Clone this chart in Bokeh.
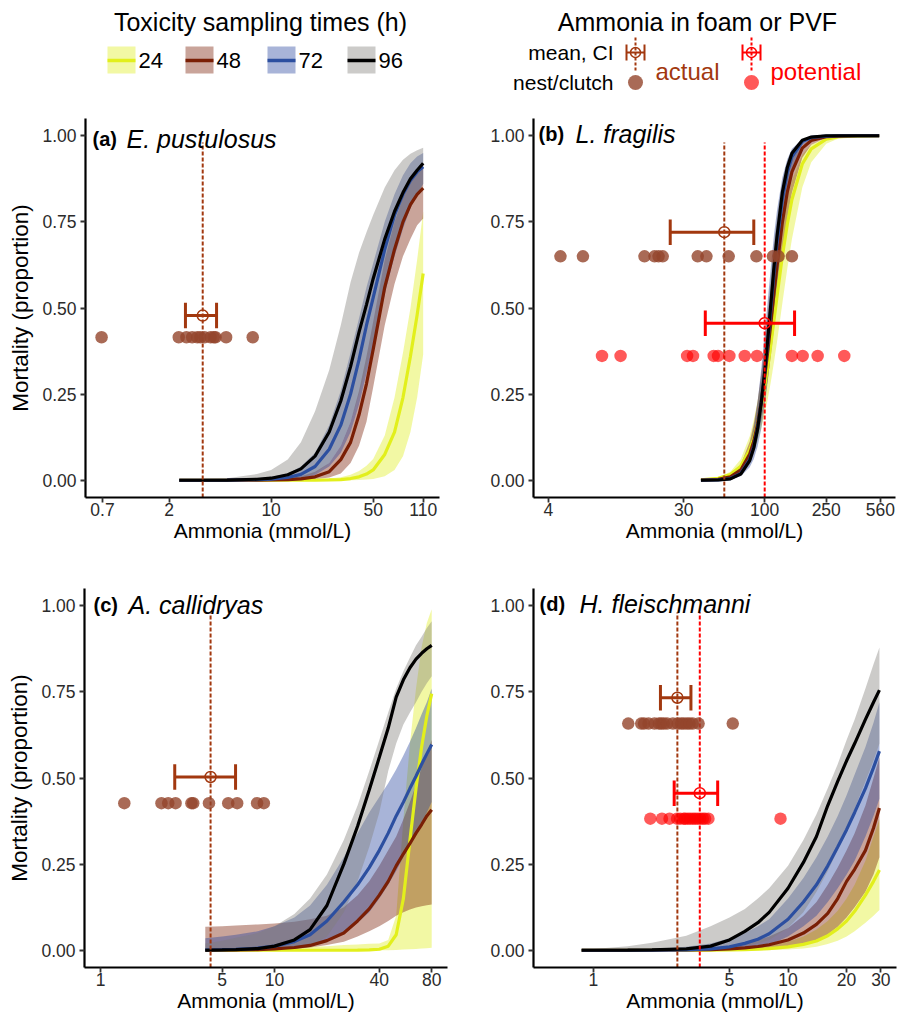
from bokeh.plotting import figure
from bokeh.layouts import column, row
from bokeh.models import Range1d, FixedTicker, CustomJSTickFormatter, PrintfTickFormatter, Label
from bokeh.embed import file_html
from bokeh.resources import INLINE

# ---------------------------------------------------------------- data
HOURS = ["24", "48", "72", "96"]
Y_TICKS = [0, 0.25, 0.5, 0.75, 1.0]

# (a) E. pustulosus
A_TICKS = [0.7, 2, 10, 50, 110]
A_X = [2.35, 5, 8, 10, 13, 16, 20, 25, 30, 35, 40, 45, 50, 60, 70, 80, 90, 100, 110]
A_FIT_24 = [0, 0, 0, 0, 0, 0, 0, 0.001, 0.002, 0.005, 0.01, 0.018, 0.03, 0.075, 0.14, 0.24, 0.36, 0.48, 0.6]
A_LO_24 = [0, 0, 0, 0, 0, 0, 0, 0, 0, 0, 0.001, 0.002, 0.004, 0.012, 0.03, 0.07, 0.14, 0.24, 0.365]
A_HI_24 = [0, 0, 0, 0.001, 0.001, 0.002, 0.003, 0.005, 0.009, 0.016, 0.027, 0.042, 0.062, 0.13, 0.24, 0.37, 0.5, 0.64, 0.78]
A_FIT_48 = [0, 0.0002, 0.0005, 0.001, 0.002, 0.004, 0.01, 0.025, 0.06, 0.11, 0.19, 0.28, 0.38, 0.56, 0.67, 0.75, 0.80, 0.83, 0.848]
A_LO_48 = [0, 0, 0, 0, 0.0005, 0.001, 0.003, 0.008, 0.02, 0.05, 0.1, 0.17, 0.27, 0.45, 0.57, 0.65, 0.7, 0.74, 0.76]
A_HI_48 = [0, 0.001, 0.002, 0.003, 0.006, 0.012, 0.025, 0.05, 0.1, 0.17, 0.26, 0.36, 0.46, 0.64, 0.75, 0.82, 0.865, 0.89, 0.905]
A_FIT_72 = [0, 0.0005, 0.0015, 0.003, 0.008, 0.017, 0.04, 0.09, 0.16, 0.25, 0.35, 0.45, 0.53, 0.67, 0.77, 0.83, 0.87, 0.895, 0.91]
A_LO_72 = [0, 0, 0.0002, 0.0005, 0.002, 0.005, 0.015, 0.04, 0.08, 0.14, 0.22, 0.31, 0.39, 0.54, 0.65, 0.73, 0.79, 0.83, 0.86]
A_HI_72 = [0, 0.002, 0.006, 0.01, 0.02, 0.04, 0.08, 0.16, 0.26, 0.37, 0.47, 0.56, 0.63, 0.75, 0.83, 0.885, 0.92, 0.94, 0.95]
A_FIT_96 = [0, 0.0005, 0.003, 0.006, 0.016, 0.033, 0.07, 0.14, 0.23, 0.33, 0.43, 0.51, 0.585, 0.70, 0.78, 0.835, 0.875, 0.90, 0.92]
A_LO_96 = [0, 0, 0.0005, 0.001, 0.003, 0.008, 0.02, 0.05, 0.1, 0.17, 0.25, 0.33, 0.41, 0.55, 0.66, 0.74, 0.79, 0.83, 0.86]
A_HI_96 = [0.002, 0.006, 0.018, 0.03, 0.06, 0.11, 0.2, 0.32, 0.45, 0.575, 0.66, 0.72, 0.77, 0.85, 0.9, 0.93, 0.948, 0.958, 0.965]
A_NEST_ACT = [0.69, 2.33, 2.63, 2.88, 3.12, 3.28, 3.50, 3.85, 4.05, 4.16, 4.92, 7.48]
A_MEAN_ACT = 3.40
A_CI_ACT = [2.59, 4.23]
A_NEST_Y_ACT = 0.415
A_MEAN_Y_ACT = 0.478

# (b) L. fragilis
B_TICKS = [4, 30, 100, 250, 560]
B_X = [38.7, 50, 60, 70, 80, 85, 90, 95, 100, 105, 110, 115, 120, 130, 140, 150, 175, 200, 250, 300, 400, 550]
B_FIT_24 = [0.0012, 0.0055, 0.017, 0.041, 0.088, 0.122, 0.165, 0.216, 0.273, 0.334, 0.40, 0.468, 0.532, 0.65, 0.743, 0.815, 0.918, 0.962, 0.99, 0.997, 0.999, 1]
B_LO_24 = [0.0011, 0.0048, 0.013, 0.031, 0.064, 0.087, 0.116, 0.152, 0.193, 0.239, 0.29, 0.345, 0.40, 0.513, 0.615, 0.70, 0.85, 0.923, 0.977, 0.992, 0.998, 1]
B_HI_24 = [0.0018, 0.0084, 0.025, 0.061, 0.128, 0.175, 0.23, 0.295, 0.364, 0.433, 0.503, 0.572, 0.634, 0.739, 0.815, 0.87, 0.945, 0.975, 0.993, 0.998, 1, 1]
B_FIT_48 = [0.0004, 0.0026, 0.01, 0.03, 0.076, 0.113, 0.164, 0.228, 0.30, 0.38, 0.462, 0.547, 0.62, 0.748, 0.836, 0.895, 0.964, 0.986, 0.997, 0.999, 1, 1]
B_LO_48 = [0.0004, 0.0024, 0.009, 0.025, 0.06, 0.088, 0.126, 0.175, 0.231, 0.297, 0.368, 0.445, 0.515, 0.65, 0.758, 0.835, 0.936, 0.974, 0.994, 0.998, 1, 1]
B_HI_48 = [0.0006, 0.0039, 0.015, 0.045, 0.112, 0.164, 0.23, 0.31, 0.394, 0.483, 0.567, 0.648, 0.715, 0.819, 0.887, 0.929, 0.976, 0.991, 0.998, 1, 1, 1]
B_FIT_72 = [0.0001, 0.0011, 0.005, 0.02, 0.061, 0.098, 0.152, 0.224, 0.31, 0.406, 0.505, 0.603, 0.686, 0.815, 0.893, 0.938, 0.983, 0.995, 0.999, 1, 1, 1]
B_LO_72 = [0.0001, 0.0007, 0.003, 0.012, 0.038, 0.062, 0.098, 0.149, 0.214, 0.293, 0.382, 0.48, 0.57, 0.727, 0.835, 0.902, 0.972, 0.991, 0.999, 1, 1, 1]
B_HI_72 = [0.0002, 0.0018, 0.009, 0.032, 0.096, 0.152, 0.228, 0.323, 0.426, 0.53, 0.627, 0.715, 0.782, 0.879, 0.932, 0.962, 0.99, 0.997, 1, 1, 1, 1]
B_FIT_96 = [0.0001, 0.0008, 0.004, 0.018, 0.057, 0.094, 0.149, 0.225, 0.315, 0.416, 0.52, 0.623, 0.707, 0.835, 0.908, 0.949, 0.987, 0.996, 1, 1, 1, 1]
B_LO_96 = [0.0001, 0.0008, 0.004, 0.015, 0.046, 0.074, 0.117, 0.177, 0.25, 0.336, 0.43, 0.53, 0.618, 0.765, 0.86, 0.918, 0.977, 0.993, 0.999, 1, 1, 1]
B_HI_96 = [0.0002, 0.0016, 0.008, 0.029, 0.088, 0.14, 0.21, 0.30, 0.40, 0.505, 0.60, 0.69, 0.765, 0.868, 0.926, 0.958, 0.989, 0.996, 1, 1, 1, 1]
B_NEST_ACT = [4.78, 6.68, 16.7, 19.4, 20.6, 21.9, 36.9, 42.0, 58.5, 88.4, 113, 123, 150]
B_MEAN_ACT = 54.8
B_CI_ACT = [24.5, 85.0]
B_NEST_Y_ACT = 0.65
B_MEAN_Y_ACT = 0.72
B_NEST_POT = [8.87, 11.7, 31.5, 34.4, 46.8, 49.9, 59.1, 74.3, 89.2, 150, 176, 220, 327]
B_MEAN_POT = 100.0
B_CI_POT = [41.3, 156.0]
B_NEST_Y_POT = 0.361
B_MEAN_Y_POT = 0.456

# (c) A. callidryas
C_TICKS = [1, 5, 10, 40, 80]
C_X = [4, 5, 6, 8, 10, 13, 16, 20, 25, 30, 35, 40, 45, 50, 55, 60, 65, 70, 75, 80]
C_FIT_24 = [0, 0, 0, 0, 0, 0, 0, 0, 0, 0.0005, 0.001, 0.003, 0.012, 0.045, 0.15, 0.32, 0.47, 0.59, 0.68, 0.745]
C_LO_24 = [0, 0, 0, 0, 0, 0, 0, 0, 0, 0, 0, 0, 0, 0.001, 0.002, 0.003, 0.004, 0.005, 0.006, 0.007]
C_HI_24 = [0.002, 0.003, 0.004, 0.005, 0.006, 0.008, 0.01, 0.012, 0.015, 0.017, 0.019, 0.02, 0.03, 0.1, 0.38, 0.6, 0.76, 0.88, 0.95, 0.99]
C_FIT_48 = [0, 0.001, 0.001, 0.002, 0.004, 0.008, 0.014, 0.028, 0.05, 0.085, 0.12, 0.16, 0.2, 0.245, 0.28, 0.31, 0.34, 0.365, 0.39, 0.408]
C_LO_48 = [0, 0, 0, 0.001, 0.002, 0.004, 0.008, 0.015, 0.025, 0.04, 0.055, 0.07, 0.085, 0.1, 0.11, 0.118, 0.124, 0.128, 0.131, 0.133]
C_HI_48 = [0.068, 0.07, 0.072, 0.075, 0.078, 0.083, 0.09, 0.1, 0.125, 0.16, 0.2, 0.245, 0.29, 0.33, 0.38, 0.43, 0.48, 0.53, 0.57, 0.61]
C_FIT_72 = [0.001, 0.002, 0.003, 0.006, 0.012, 0.025, 0.045, 0.085, 0.14, 0.19, 0.24, 0.29, 0.34, 0.39, 0.43, 0.47, 0.505, 0.54, 0.57, 0.597]
C_LO_72 = [0, 0, 0, 0.001, 0.002, 0.005, 0.01, 0.025, 0.05, 0.08, 0.11, 0.15, 0.19, 0.23, 0.27, 0.305, 0.34, 0.37, 0.4, 0.43]
C_HI_72 = [0.035, 0.04, 0.045, 0.055, 0.07, 0.095, 0.13, 0.19, 0.27, 0.34, 0.4, 0.445, 0.485, 0.525, 0.565, 0.605, 0.645, 0.685, 0.72, 0.76]
C_FIT_96 = [0, 0.001, 0.002, 0.005, 0.012, 0.03, 0.06, 0.13, 0.25, 0.36, 0.465, 0.56, 0.645, 0.735, 0.785, 0.82, 0.845, 0.862, 0.875, 0.885]
C_LO_96 = [0, 0, 0, 0.0005, 0.001, 0.004, 0.012, 0.04, 0.11, 0.2, 0.3, 0.4, 0.52, 0.6, 0.655, 0.69, 0.72, 0.75, 0.775, 0.795]
C_HI_96 = [0.02, 0.028, 0.036, 0.05, 0.07, 0.105, 0.15, 0.22, 0.32, 0.42, 0.52, 0.61, 0.69, 0.76, 0.81, 0.85, 0.885, 0.91, 0.935, 0.955]
C_NEST_ACT = [1.37, 2.24, 2.45, 2.70, 3.33, 3.41, 4.20, 5.42, 6.10, 7.94, 8.68]
C_MEAN_ACT = 4.29
C_CI_ACT = [2.67, 5.97]
C_NEST_Y_ACT = 0.427
C_MEAN_Y_ACT = 0.503

# (d) H. fleischmanni
D_TICKS = [1, 5, 10, 20, 30]
D_X = [0.87, 1, 1.5, 2, 3, 4, 5, 6, 7, 8, 10, 12, 14, 16, 18, 20, 22, 25, 27.5, 29.5]
D_FIT_24 = [0, 0, 0, 0, 0, 0.0005, 0.001, 0.002, 0.003, 0.005, 0.01, 0.017, 0.027, 0.042, 0.062, 0.085, 0.113, 0.16, 0.2, 0.233]
D_LO_24 = [0, 0, 0, 0, 0, 0, 0, 0, 0, 0.001, 0.002, 0.005, 0.01, 0.018, 0.028, 0.04, 0.055, 0.08, 0.1, 0.117]
D_HI_24 = [0, 0, 0, 0, 0.001, 0.002, 0.004, 0.007, 0.01, 0.014, 0.025, 0.04, 0.06, 0.085, 0.115, 0.15, 0.19, 0.26, 0.33, 0.38]
D_FIT_48 = [0, 0, 0, 0, 0.001, 0.002, 0.004, 0.007, 0.011, 0.016, 0.03, 0.05, 0.075, 0.107, 0.15, 0.2, 0.235, 0.29, 0.355, 0.413]
D_LO_48 = [0, 0, 0, 0, 0, 0, 0, 0.001, 0.002, 0.004, 0.01, 0.018, 0.03, 0.046, 0.068, 0.095, 0.125, 0.17, 0.22, 0.27]
D_HI_48 = [0, 0, 0, 0.001, 0.003, 0.006, 0.012, 0.02, 0.03, 0.04, 0.065, 0.1, 0.14, 0.19, 0.24, 0.29, 0.34, 0.42, 0.5, 0.56]
D_FIT_72 = [0, 0, 0, 0, 0.001, 0.004, 0.01, 0.02, 0.032, 0.048, 0.09, 0.14, 0.19, 0.245, 0.3, 0.35, 0.4, 0.47, 0.53, 0.578]
D_LO_72 = [0, 0, 0, 0, 0, 0.0005, 0.002, 0.005, 0.01, 0.015, 0.04, 0.07, 0.1, 0.14, 0.18, 0.22, 0.26, 0.33, 0.39, 0.44]
D_HI_72 = [0.001, 0.001, 0.002, 0.004, 0.01, 0.02, 0.035, 0.05, 0.07, 0.09, 0.15, 0.21, 0.27, 0.33, 0.39, 0.45, 0.51, 0.59, 0.66, 0.72]
D_FIT_96 = [0, 0, 0.0005, 0.001, 0.004, 0.012, 0.03, 0.055, 0.08, 0.11, 0.18, 0.255, 0.33, 0.42, 0.49, 0.55, 0.6, 0.67, 0.72, 0.755]
D_LO_96 = [0, 0, 0, 0, 0.001, 0.003, 0.007, 0.013, 0.02, 0.03, 0.065, 0.11, 0.17, 0.23, 0.29, 0.35, 0.41, 0.49, 0.55, 0.6]
D_HI_96 = [0.003, 0.004, 0.012, 0.022, 0.042, 0.07, 0.095, 0.12, 0.15, 0.18, 0.245, 0.32, 0.395, 0.47, 0.54, 0.61, 0.67, 0.76, 0.83, 0.879]
D_NEST_ACT = [1.51, 1.76, 1.82, 1.92, 2.06, 2.17, 2.23, 2.30, 2.39, 2.56, 2.71, 2.82, 2.91, 3.02, 3.12, 3.24, 3.47, 5.20]
D_MEAN_ACT = 2.70
D_CI_ACT = [2.21, 3.17]
D_NEST_Y_ACT = 0.658
D_MEAN_Y_ACT = 0.733
D_NEST_POT = [1.96, 2.25, 2.46, 2.69, 2.79, 2.91, 2.96, 3.05, 3.14, 3.24, 3.33, 3.43, 3.54, 3.65, 3.75, 3.90, 9.15]
D_MEAN_POT = 3.52
D_CI_POT = [2.60, 4.35]
D_NEST_Y_POT = 0.382
D_MEAN_Y_POT = 0.456

# ---------------------------------------------------------------- style
FONT = "Liberation Sans"
LINE_COL = {"24": "#e2ef1c", "48": "#7a1f05", "72": "#2c4fa0", "96": "#000000"}
FILL_COL = {"24": "#deee1c", "48": "#781c03", "72": "#26449e", "96": "#807c77"}
FILL_ALPHA = 0.4
ACT_COL = "#a2380f"
ACT_DOT = "#94452c"
POT_COL = "#ff0000"


def style_axes(p, ylabel):
    for ax in (p.xaxis[0], p.yaxis[0]):
        ax.axis_line_width = 2.2
        ax.axis_line_color = "black"
        ax.major_tick_line_width = 1.8
        ax.major_tick_line_color = "#333333"
        ax.major_tick_out = 5
        ax.major_tick_in = 0
        ax.minor_tick_line_color = None
        ax.major_label_text_font = FONT
        ax.major_label_text_font_size = "17.5px"
        ax.major_label_text_color = "#2b2b2b"
        ax.axis_label_text_font = FONT
        ax.axis_label_text_font_style = "normal"
        ax.axis_label_text_color = "black"
    p.xaxis.axis_label = "Ammonia (mmol/L)"
    p.xaxis.axis_label_text_font_size = "21px"
    p.xaxis.major_label_standoff = 0
    p.xaxis.axis_label_standoff = 0
    p.yaxis.major_label_standoff = 4
    p.yaxis.ticker = FixedTicker(ticks=Y_TICKS)
    p.yaxis.formatter = PrintfTickFormatter(format="%.2f")
    if ylabel:
        p.yaxis.axis_label = "Mortality (proportion)"
        p.yaxis.axis_label_text_font_size = "22.5px"
        p.yaxis.axis_label_standoff = 6


def make_panel(xr, ticks, gx, fits, los, his, groups, letter, species,
               left, right, top, bottom, fw, fh, title_dy, letter_dx, species_dx, ylabel):
    p = figure(x_axis_type="log", x_range=Range1d(*xr), y_range=Range1d(-0.05, 1.05),
               frame_width=fw, frame_height=fh,
               min_border_left=left, min_border_right=right,
               min_border_top=top, min_border_bottom=bottom,
               toolbar_location=None, output_backend="svg")
    p.grid.visible = False
    p.outline_line_color = None
    p.xaxis.ticker = FixedTicker(ticks=ticks)
    p.xaxis.formatter = CustomJSTickFormatter(code="return tick.toString();")
    style_axes(p, ylabel)

    for h in HOURS:
        p.varea(x=gx, y1=los[h], y2=his[h], fill_color=FILL_COL[h], fill_alpha=FILL_ALPHA)
    for h in HOURS:
        p.line(x=gx, y=fits[h], line_color=LINE_COL[h], line_width=3.2)

    for g in groups:
        col = ACT_COL if g["kind"] == "actual" else POT_COL
        p.segment(x0=[g["mean"]], y0=[-0.05], x1=[g["mean"]], y1=[0.98],
                  line_color=col, line_width=2, line_dash="4 2")
    for g in groups:
        actual = g["kind"] == "actual"
        col = ACT_COL if actual else POT_COL
        p.scatter(x=g["dots"], y=[g["dot_y"]] * len(g["dots"]), size=12.5,
                  fill_color=ACT_DOT if actual else POT_COL,
                  fill_alpha=0.8 if actual else 0.65, line_color=None)
        lo, hi = g["ci"]
        y = g["bar_y"]
        p.segment(x0=[lo], y0=[y], x1=[hi], y1=[y], line_color=col, line_width=3)
        p.segment(x0=[lo, hi], y0=[y - 0.037, y - 0.037], x1=[lo, hi], y1=[y + 0.037, y + 0.037],
                  line_color=col, line_width=3)
        p.scatter(x=[g["mean"]], y=[y], size=11, marker="circle", fill_color=None,
                  line_color=col, line_width=1.5)

    p.add_layout(Label(x=xr[0], y=1.05, x_offset=letter_dx, y_offset=-title_dy, text=letter,
                       text_font=FONT, text_font_size="20px", text_font_style="bold",
                       text_baseline="alphabetic", text_align="left", text_color="black"))
    p.add_layout(Label(x=xr[0], y=1.05, x_offset=species_dx, y_offset=-title_dy, text=species,
                       text_font=FONT, text_font_size="25px", text_font_style="italic",
                       text_baseline="alphabetic", text_align="left", text_color="black"))
    return p


pa = make_panel((0.5355, 142.3), A_TICKS, A_X,
                {"24": A_FIT_24, "48": A_FIT_48, "72": A_FIT_72, "96": A_FIT_96},
                {"24": A_LO_24, "48": A_LO_48, "72": A_LO_72, "96": A_LO_96},
                {"24": A_HI_24, "48": A_HI_48, "72": A_HI_72, "96": A_HI_96},
                [dict(kind="actual", dots=A_NEST_ACT, dot_y=A_NEST_Y_ACT, mean=A_MEAN_ACT,
                      ci=A_CI_ACT, bar_y=A_MEAN_Y_ACT)],
                "(a)", "E. pustulosus", 85, 13, 18, 66, 354, 379, 20, 7, 41, True)

pb = make_panel((3.2, 701), B_TICKS, B_X,
                {"24": B_FIT_24, "48": B_FIT_48, "72": B_FIT_72, "96": B_FIT_96},
                {"24": B_LO_24, "48": B_LO_48, "72": B_LO_72, "96": B_LO_96},
                {"24": B_HI_24, "48": B_HI_48, "72": B_HI_72, "96": B_HI_96},
                [dict(kind="actual", dots=B_NEST_ACT, dot_y=B_NEST_Y_ACT, mean=B_MEAN_ACT,
                      ci=B_CI_ACT, bar_y=B_MEAN_Y_ACT),
                 dict(kind="potential", dots=B_NEST_POT, dot_y=B_NEST_Y_POT, mean=B_MEAN_POT,
                      ci=B_CI_POT, bar_y=B_MEAN_Y_POT)],
                "(b)", "L. fragilis", 81, 10, 18, 66, 362, 379, 15, 5, 42, False)

pc = make_panel((0.809, 98.6), C_TICKS, C_X,
                {"24": C_FIT_24, "48": C_FIT_48, "72": C_FIT_72, "96": C_FIT_96},
                {"24": C_LO_24, "48": C_LO_48, "72": C_LO_72, "96": C_LO_96},
                {"24": C_HI_24, "48": C_HI_48, "72": C_HI_72, "96": C_HI_96},
                [dict(kind="actual", dots=C_NEST_ACT, dot_y=C_NEST_Y_ACT, mean=C_MEAN_ACT,
                      ci=C_CI_ACT, bar_y=C_MEAN_Y_ACT)],
                "(c)", "A. callidryas", 84, 5, 25, 48, 363, 379, 16, 9, 44, True)

pd_ = make_panel((0.492, 36.1), D_TICKS, D_X,
                 {"24": D_FIT_24, "48": D_FIT_48, "72": D_FIT_72, "96": D_FIT_96},
                 {"24": D_LO_24, "48": D_LO_48, "72": D_LO_72, "96": D_LO_96},
                 {"24": D_HI_24, "48": D_HI_48, "72": D_HI_72, "96": D_HI_96},
                 [dict(kind="actual", dots=D_NEST_ACT, dot_y=D_NEST_Y_ACT, mean=D_MEAN_ACT,
                       ci=D_CI_ACT, bar_y=D_MEAN_Y_ACT),
                  dict(kind="potential", dots=D_NEST_POT, dot_y=D_NEST_Y_POT, mean=D_MEAN_POT,
                       ci=D_CI_POT, bar_y=D_MEAN_Y_POT)],
                 "(d)", "H. fleischmanni", 81, 10, 25, 48, 363, 379, 15, 6, 46, False)

# ---------------------------------------------------------------- legend strip
LW, LH = 905, 100
leg = figure(width=LW, height=LH, x_range=Range1d(0, LW), y_range=Range1d(0, LH),
             min_border=0, toolbar_location=None, output_backend="svg",
             x_axis_location=None, y_axis_location=None)
leg.grid.visible = False
leg.outline_line_color = None


def lx(x):
    return x


def ly(y):
    return LH - y


def txt(x, y, s, size, color="black", align="left", baseline="middle", style="normal"):
    leg.add_layout(Label(x=lx(x), y=ly(y), text=s, text_font=FONT, text_font_size=size,
                         text_color=color, text_align=align, text_baseline=baseline,
                         text_font_style=style))


txt(260, 21, "Toxicity sampling times (h)", "25px", align="center")
txt(697, 21, "Ammonia in foam or PVF", "25px", align="center")

KEY_X = [107, 185, 267, 347]
for h, kx in zip(HOURS, KEY_X):
    leg.quad(left=[lx(kx)], right=[lx(kx + 28)], bottom=[ly(73)], top=[ly(46)],
             fill_color=FILL_COL[h], fill_alpha=FILL_ALPHA, line_color=None)
    leg.segment(x0=[lx(kx)], y0=[ly(60)], x1=[lx(kx + 28)], y1=[ly(60)],
                line_color=LINE_COL[h], line_width=3.5)
    txt(kx + 31, 60, h, "22px")

txt(613, 52, "mean, CI", "21px", align="right")
txt(613, 82, "nest/clutch", "21px", align="right")

for cx, col, dotcol, alpha, label, tx in [(635, ACT_COL, ACT_DOT, 0.8, "actual", 655),
                                          (751, POT_COL, POT_COL, 0.65, "potential", 770)]:
    leg.segment(x0=[lx(cx)], y0=[ly(37)], x1=[lx(cx)], y1=[ly(70)],
                line_color=col, line_width=2, line_dash="3 2")
    leg.segment(x0=[lx(cx - 9)], y0=[ly(52)], x1=[lx(cx + 9)], y1=[ly(52)],
                line_color=col, line_width=2)
    leg.segment(x0=[lx(cx - 9), lx(cx + 9)], y0=[ly(44), ly(44)],
                x1=[lx(cx - 9), lx(cx + 9)], y1=[ly(60), ly(60)], line_color=col, line_width=2)
    leg.scatter(x=[lx(cx)], y=[ly(52)], size=10, marker="circle", fill_color=None,
                line_color=col, line_width=1.5)
    leg.scatter(x=[lx(cx)], y=[ly(82)], size=15, fill_color=dotcol, fill_alpha=alpha,
                line_color=None)
    txt(tx, 71, label, "24px", color=col, baseline="alphabetic")

layout = column(leg, row(pa, pb), row(pc, pd_))
open("out.html", "w").write(file_html(layout, INLINE))
